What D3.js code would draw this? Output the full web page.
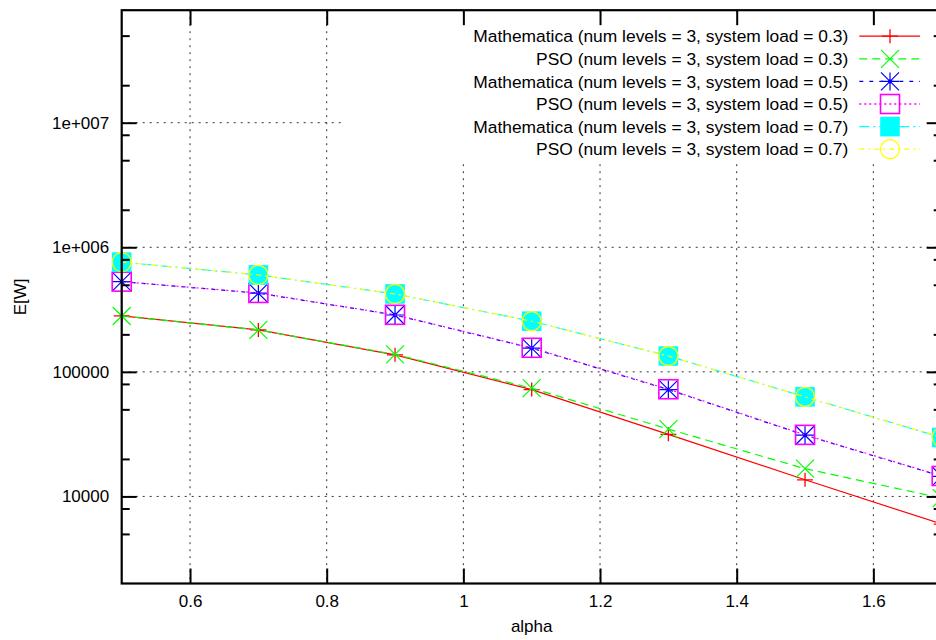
<!DOCTYPE html>
<html>
<head>
<meta charset="utf-8">
<script src="https://cdn.jsdelivr.net/npm/d3@7"></script>
<style>
  html, body { margin: 0; padding: 0; background: #fff; }
  svg { display: block; }
  text { font-family: "Liberation Sans", Arial, Helvetica, sans-serif; font-size: 17px; fill: #000; }
  .key-label { font-size: 17.4px; }
</style>
</head>
<body>
<svg id="chart" width="936" height="640"></svg>
<script>
// x values (alpha) shared by every series
const alpha = [0.5, 0.7, 0.9, 1.1, 1.3, 1.5, 1.7];

// E[W] per series
const mathematica03 = [2.81e5, 2.17e5, 1.37e5, 7.2e4, 3.15e4, 1.36e4, 6.0e3];
const pso03         = [2.81e5, 2.17e5, 1.38e5, 7.4e4, 3.47e4, 1.67e4, 9.7e3];
const mathematica05 = [5.3e5, 4.28e5, 2.86e5, 1.55e5, 7.2e4, 3.1e4, 1.45e4];
const pso05         = [5.3e5, 4.3e5, 2.87e5, 1.56e5, 7.25e4, 3.12e4, 1.46e4];
const mathematica07 = [7.6e5, 6.0e5, 4.22e5, 2.55e5, 1.34e5, 6.3e4, 2.97e4];
const pso07         = [7.6e5, 6.0e5, 4.22e5, 2.55e5, 1.34e5, 6.3e4, 2.98e4];

const seriesLabels = [
  "Mathematica (num levels = 3, system load = 0.3)",
  "PSO (num levels = 3, system load = 0.3)",
  "Mathematica (num levels = 3, system load = 0.5)",
  "PSO (num levels = 3, system load = 0.5)",
  "Mathematica (num levels = 3, system load = 0.7)",
  "PSO (num levels = 3, system load = 0.7)"
];

// tick values and labels
const xTicks = [0.6, 0.8, 1.0, 1.2, 1.4, 1.6];
const yMajorTicks = [1e4, 1e5, 1e6, 1e7];
const yMajorLabels = ["10000", "100000", "1e+006", "1e+007"];
const yMinorTicks = [5e3, 8e3, 2e4, 5e4, 8e4, 2e5, 5e5, 8e5, 2e6, 5e6, 8e6, 2e7, 5e7];

const seriesValues = [mathematica03, pso03, mathematica05, pso05, mathematica07, pso07];
const styles = [
  { color: "#ff0000", dash: null,        marker: "plus" },
  { color: "#00ff00", dash: "8,5",       marker: "cross" },
  { color: "#0000ff", dash: "4,6",       marker: "star" },
  { color: "#ff00ff", dash: "2,3",       marker: "square" },
  { color: "#00ffff", dash: "10,4,2,4",  marker: "filledSquare" },
  { color: "#ffff00", dash: "5,4,2,4",   marker: "circle" }
];

const svg = d3.select("#chart");
const plotLeft = 121.7, plotRight = 941.7, plotTop = 10.2, plotBottom = 583.5;

const x = d3.scaleLinear().domain([0.5, 1.7]).range([plotLeft, plotRight]);
const y = d3.scaleLog().domain([2000, 8e7]).range([plotBottom, plotTop]);

// dotted grid
const grid = svg.append("g").attr("stroke", "#333").attr("stroke-width", 1)
  .attr("stroke-dasharray", "2,5").attr("fill", "none");
grid.selectAll("line.gx").data(xTicks).join("line")
  .attr("x1", d => x(d)).attr("x2", d => x(d))
  .attr("y1", plotTop).attr("y2", plotBottom);
grid.selectAll("line.gy").data(yMajorTicks).join("line")
  .attr("x1", plotLeft).attr("x2", plotRight)
  .attr("y1", d => y(d)).attr("y2", d => y(d));

function drawMarker(g, kind, color) {
  if (kind === "plus") {
    g.append("path").attr("d", "M-8,0H8M0,-7V7").attr("stroke", color).attr("stroke-width", 1.3).attr("fill", "none");
  } else if (kind === "cross") {
    g.append("path").attr("d", "M-9,-9L9,9M-9,9L9,-9").attr("stroke", color).attr("stroke-width", 1.2).attr("fill", "none");
  } else if (kind === "star") {
    g.append("path").attr("d", "M-9,0H9M0,-9V9M-9,-9L9,9M-9,9L9,-9").attr("stroke", color).attr("stroke-width", 1.2).attr("fill", "none");
    g.append("circle").attr("r", 2).attr("fill", color);
  } else if (kind === "square") {
    g.append("rect").attr("x", -9.5).attr("y", -9.5).attr("width", 19).attr("height", 19)
      .attr("stroke", color).attr("stroke-width", 1.6).attr("fill", "none");
  } else if (kind === "filledSquare") {
    g.append("rect").attr("x", -9.8).attr("y", -9.8).attr("width", 19.6).attr("height", 19.6).attr("fill", color);
  } else if (kind === "circle") {
    g.append("circle").attr("r", 9.5).attr("stroke", color).attr("stroke-width", 1.3).attr("fill", "none");
  }
}

const line = d3.line().x(d => x(d[0])).y(d => y(d[1]));

// series: line, then points
seriesValues.forEach((vals, i) => {
  const st = styles[i];
  const pts = alpha.map((a, k) => [a, vals[k]]);
  const g = svg.append("g");
  g.append("path").datum(pts).attr("d", line)
    .attr("fill", "none").attr("stroke", st.color).attr("stroke-width", 1.2)
    .attr("stroke-dasharray", st.dash);
  g.selectAll("g.pt").data(pts).join("g")
    .attr("transform", d => `translate(${x(d[0])},${y(d[1])})`)
    .each(function () { drawMarker(d3.select(this), st.marker, st.color); });
});

// key with opaque background
const keyTop = 14, rowStep = 22.6, firstRow = 36.2;
svg.append("rect").attr("x", 341).attr("y", keyTop)
  .attr("width", plotRight - 341).attr("height", 160.5 - keyTop).attr("fill", "#fff");
seriesLabels.forEach((lab, i) => {
  const st = styles[i];
  const ry = firstRow + i * rowStep;
  const g = svg.append("g");
  g.append("text").attr("class", "key-label").attr("x", 848.3).attr("y", ry).attr("dy", "0.36em")
    .attr("text-anchor", "end").text(lab);
  g.append("line").attr("x1", 859.3).attr("x2", 920).attr("y1", ry).attr("y2", ry)
    .attr("stroke", st.color).attr("stroke-width", 1.3).attr("stroke-dasharray", st.dash);
  const mg = g.append("g").attr("transform", `translate(890,${ry})`);
  drawMarker(mg, st.marker, st.color);
});

// axes with inward ticks, mirrored on top and right
function styleAxis(g) {
  g.select(".domain").remove();
  g.selectAll(".tick line").attr("stroke", "#000").attr("stroke-width", 2);
  g.selectAll(".tick text").attr("fill", "#000").style("font-size", "17px")
    .style("font-family", '"Liberation Sans", Arial, sans-serif');
}

svg.append("g").attr("transform", `translate(0,${plotBottom})`)
  .call(d3.axisBottom(x).tickValues(xTicks).tickSize(-15).tickPadding(11.5)
    .tickFormat(d3.format("~g")))
  .call(styleAxis);
svg.append("g").attr("transform", `translate(0,${plotTop})`)
  .call(d3.axisTop(x).tickValues(xTicks).tickSize(-15).tickFormat(""))
  .call(styleAxis);

svg.append("g").attr("transform", `translate(${plotLeft},0)`)
  .call(d3.axisLeft(y).tickValues(yMajorTicks).tickSize(-15).tickPadding(12.5)
    .tickFormat((d, i) => yMajorLabels[i]))
  .call(styleAxis);
svg.append("g").attr("transform", `translate(${plotLeft},0)`)
  .call(d3.axisLeft(y).tickValues(yMinorTicks).tickSize(-8).tickFormat(""))
  .call(styleAxis);
svg.append("g").attr("transform", `translate(${plotRight},0)`)
  .call(d3.axisRight(y).tickValues(yMajorTicks).tickSize(-15).tickFormat(""))
  .call(styleAxis);
svg.append("g").attr("transform", `translate(${plotRight},0)`)
  .call(d3.axisRight(y).tickValues(yMinorTicks).tickSize(-8).tickFormat(""))
  .call(styleAxis);

// plot border
svg.append("rect").attr("x", plotLeft).attr("y", plotTop)
  .attr("width", plotRight - plotLeft).attr("height", plotBottom - plotTop)
  .attr("fill", "none").attr("stroke", "#000").attr("stroke-width", 2.2);

// axis titles
svg.append("text").attr("x", (plotLeft + plotRight) / 2).attr("y", 632)
  .attr("text-anchor", "middle").text("alpha");
svg.append("text").attr("transform", `translate(19.5,${(plotTop + plotBottom) / 2}) rotate(-90)`)
  .attr("dy", "0.36em").attr("text-anchor", "middle").text("E[W]");
</script>
</body>
</html>
